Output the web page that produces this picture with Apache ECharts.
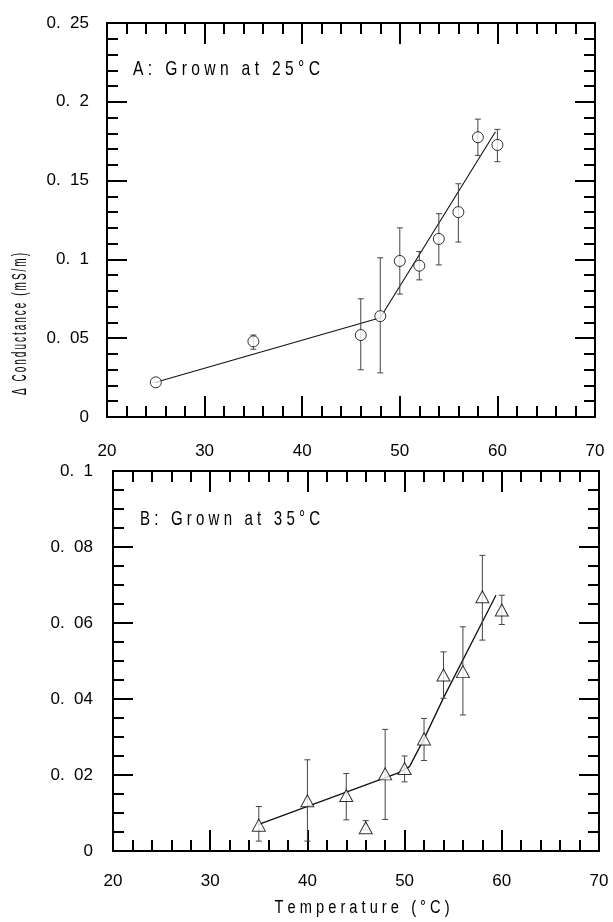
<!DOCTYPE html>
<html>
<head>
<meta charset="utf-8">
<script src="https://cdn.jsdelivr.net/npm/echarts@6/dist/echarts.min.js"></script>
<style>
  html, body { margin: 0; padding: 0; background: #fff; }
  #chart { width: 613px; height: 922px; }
</style>
</head>
<body>
<div id="chart"></div>
<script>
// Panel A: cells grown at 25 °C
const tempA = [25, 35, 46, 48, 50, 52, 54, 56, 58, 60];
const condA = [0.022, 0.048, 0.052, 0.064, 0.099, 0.096, 0.113, 0.130, 0.1775, 0.1726];
const hiA   = [0.022, 0.052, 0.075, 0.101, 0.120, 0.105, 0.129, 0.148, 0.189, 0.1825];
const loA   = [0.022, 0.043, 0.030, 0.028, 0.078, 0.087, 0.0965, 0.111, 0.166, 0.162];
const fitTempA = [25, 48, 59.8];
const fitCondA = [0.022, 0.063, 0.181];

// Panel B: cells grown at 35 °C
const tempB = [35, 40, 44, 46, 48, 50, 52, 54, 56, 58, 60];
const condB = [0.0068, 0.0132, 0.0146, 0.0061, 0.0203, 0.0217, 0.0295, 0.0463, 0.0472, 0.0669, 0.0634];
const hiB   = [0.0117, 0.024, 0.0204, 0.008, 0.032, 0.025, 0.0349, 0.0524, 0.059, 0.0778, 0.0673];
const loB   = [0.0026, 0.0026, 0.0082, 0.0055, 0.0083, 0.0182, 0.0238, 0.0402, 0.0358, 0.0555, 0.0596];
const fitTempB = [35, 49.5, 50.5, 52, 54, 59.4];
const fitCondB = [0.0070, 0.0207, 0.0222, 0.0295, 0.0403, 0.0673];

// Tick labels
const xTicks = [20, 30, 40, 50, 60, 70];
const yTickLabelsA = { 0: '0', 0.05: '0.  05', 0.1: '0.  1', 0.15: '0.  15', 0.2: '0.  2', 0.25: '0.  25' };
const yTickLabelsB = { 0: '0', 0.02: '0.  02', 0.04: '0.  04', 0.06: '0.  06', 0.08: '0.  08', 0.1: '0.  1' };

const FONT = "'Liberation Sans', Arial, sans-serif";
const spaced = (s, gap = ' ') => String(s).split('').join(gap);

const zip = (xs, ys) => xs.map((x, i) => [x, ys[i]]);
const bars = (xs, lo, hi) => xs.map((x, i) => [x, lo[i], hi[i]]);

function labelFor(map, v) {
  const key = Object.keys(map).find(k => Math.abs(parseFloat(k) - v) < 1e-9);
  return key !== undefined ? map[key] : '';
}

// Horizontal squeeze so a spaced-out caption spans the wanted width
const measureCtx = document.createElement('canvas').getContext('2d');
function squeeze(text, font, width) {
  measureCtx.font = font;
  return width / measureCtx.measureText(text).width;
}

const tickStyle = { color: '#000', width: 2 };

function xAxisPair(gridIndex, labelMargin) {
  const common = {
    gridIndex, type: 'value', min: 20, max: 70, interval: 10,
    axisLine: { show: true, onZero: false, lineStyle: tickStyle },
    axisTick: { show: true, inside: true, length: 21, lineStyle: tickStyle },
    minorTick: { show: true, splitNumber: 5, length: 11, lineStyle: tickStyle },
    splitLine: { show: false }
  };
  return [
    Object.assign({}, common, {
      position: 'bottom',
      axisLabel: {
        show: true, margin: labelMargin, color: '#000', fontSize: 17, fontFamily: FONT,
        formatter: v => xTicks.includes(v) ? String(v) : ''
      }
    }),
    Object.assign({}, common, { position: 'top', axisLabel: { show: false } })
  ];
}

function yAxisPair(gridIndex, max, interval, split, map, labelMargin) {
  const common = {
    gridIndex, type: 'value', min: 0, max, interval,
    axisLine: { show: true, onZero: false, lineStyle: tickStyle },
    axisTick: { show: true, inside: true, length: 20, lineStyle: tickStyle },
    minorTick: { show: true, splitNumber: split, length: 11, lineStyle: tickStyle },
    splitLine: { show: false }
  };
  return [
    Object.assign({}, common, {
      position: 'left',
      axisLabel: {
        show: true, margin: labelMargin, color: '#000', fontSize: 17, fontFamily: FONT,
        formatter: v => labelFor(map, v)
      }
    }),
    Object.assign({}, common, { position: 'right', axisLabel: { show: false } })
  ];
}

function errorBarRender(params, api) {
  const x = api.value(0);
  const lo = api.coord([x, api.value(1)]);
  const hi = api.coord([x, api.value(2)]);
  const cap = 3;
  const style = { stroke: '#444', lineWidth: 1 };
  return {
    type: 'group',
    children: [
      { type: 'line', shape: { x1: lo[0], y1: lo[1], x2: hi[0], y2: hi[1] }, style },
      { type: 'line', shape: { x1: hi[0] - cap, y1: hi[1], x2: hi[0] + cap, y2: hi[1] }, style },
      { type: 'line', shape: { x1: lo[0] - cap, y1: lo[1], x2: lo[0] + cap, y2: lo[1] }, style }
    ]
  };
}

const captionA = spaced('A: Grown at 25°C');
const captionB = spaced('B: Grown at 35°C');
const yTitle = spaced('Δ Conductance (mS/m)', '\u2009');
const xTitle = spaced('Temperature (°C)');
const capFont = '21px ' + FONT;
const yFont = '21px ' + FONT;
const xFont = '18px ' + FONT;

const chart = echarts.init(document.getElementById('chart'), null, { renderer: 'canvas' });

const option = {
  backgroundColor: '#fff',
  animation: false,
  grid: [
    { left: 107, top: 23, width: 488, height: 394 },
    { left: 113, top: 471, width: 486, height: 380 }
  ],
  xAxis: [...xAxisPair(0, 26), ...xAxisPair(1, 22)],
  yAxis: [
    ...yAxisPair(0, 0.25, 0.05, 5, yTickLabelsA, 18),
    ...yAxisPair(1, 0.1, 0.02, 4, yTickLabelsB, 20)
  ],
  series: [
    // Panel A
    {
      type: 'line', xAxisIndex: 0, yAxisIndex: 0, z: 2,
      data: zip(fitTempA, fitCondA), symbol: 'none',
      lineStyle: { color: '#111', width: 1.1 }
    },
    {
      type: 'custom', xAxisIndex: 0, yAxisIndex: 0, z: 3,
      data: bars(tempA, loA, hiA), encode: { x: 0, y: [1, 2] },
      renderItem: errorBarRender
    },
    {
      type: 'scatter', xAxisIndex: 0, yAxisIndex: 0, z: 5,
      data: zip(tempA, condA), symbol: 'circle', symbolSize: 11,
      itemStyle: { color: '#fff', borderColor: '#000', borderWidth: 1 }
    },
    // Panel B
    {
      type: 'line', xAxisIndex: 2, yAxisIndex: 2, z: 2,
      data: zip(fitTempB, fitCondB), symbol: 'none',
      lineStyle: { color: '#111', width: 1.3 }
    },
    {
      type: 'custom', xAxisIndex: 2, yAxisIndex: 2, z: 3,
      data: bars(tempB, loB, hiB), encode: { x: 0, y: [1, 2] },
      renderItem: errorBarRender
    },
    {
      type: 'scatter', xAxisIndex: 2, yAxisIndex: 2, z: 5,
      data: zip(tempB, condB), symbol: 'triangle', symbolSize: [13, 12],
      itemStyle: { color: '#fff', borderColor: '#000', borderWidth: 1 }
    }
  ],
  graphic: [
    {
      type: 'text', x: 133, y: 69, z: 10, scaleX: squeeze(captionA, capFont, 187),
      style: { text: captionA, font: capFont, fill: '#000', align: 'left', verticalAlign: 'middle' }
    },
    {
      type: 'text', x: 140, y: 519, z: 10, scaleX: squeeze(captionB, capFont, 180),
      style: { text: captionB, font: capFont, fill: '#000', align: 'left', verticalAlign: 'middle' }
    },
    {
      type: 'text', x: 20, y: 324, rotation: Math.PI / 2, z: 10, scaleX: squeeze(yTitle, yFont, 142),
      style: { text: yTitle, font: yFont, fill: '#000', align: 'center', verticalAlign: 'middle' }
    },
    {
      type: 'text', x: 362, y: 908, z: 10, scaleX: squeeze(xTitle, xFont, 175),
      style: { text: xTitle, font: xFont, fill: '#000', align: 'center', verticalAlign: 'middle' }
    }
  ]
};

chart.setOption(option);
</script>
</body>
</html>
